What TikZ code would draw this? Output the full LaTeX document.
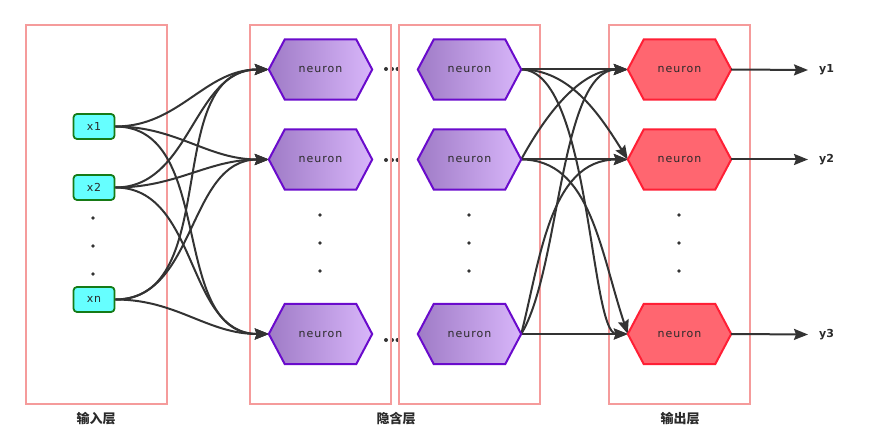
\documentclass[tikz,border=0pt]{standalone}
\usepackage{fontspec}
\setmainfont{DejaVu Sans}
\newfontfamily\cjk{Noto Sans CJK SC}
\usetikzlibrary{arrows.meta,calc}
\definecolor{ink}{HTML}{333333}
\definecolor{txt}{HTML}{2A2A2A}
\definecolor{layerc}{HTML}{F59B9B}
\definecolor{infill}{HTML}{66FFFF}
\definecolor{indraw}{HTML}{167A16}
\definecolor{hidl}{HTML}{9F7BC6}
\definecolor{hidr}{HTML}{D8B6FA}
\definecolor{hiddraw}{HTML}{6A0BCC}
\definecolor{outfill}{HTML}{FF6670}
\definecolor{outdraw}{HTML}{FF1F35}
\newcommand\neuronhex[4]{%
  \node[hexbox] (#1) at (#2,#3) {};
  \path[#4] (#1.west) -- ([xshift=16pt]#1.north west) -- ([xshift=-16pt]#1.north east)
    -- (#1.east) -- ([xshift=-16pt]#1.south east) -- ([xshift=16pt]#1.south west) -- cycle;
  \node[neurontext] (#1t) at (#1) {neuron};
}
\begin{document}
\begin{tikzpicture}[x=1pt,y=-1pt,
  layerbox/.style={draw=layerc,line width=1.8pt},
  hexbox/.style={minimum width=103pt,minimum height=60pt,inner sep=0pt},
  hidstyle/.style={draw=hiddraw,line width=2pt,left color=hidl,right color=hidr},
  outstyle/.style={draw=outdraw,line width=2pt,fill=outfill},
  neurontext/.style={text=txt,font=\fontsize{11}{13}\selectfont\addfontfeature{LetterSpace=9}},
  innode/.style={draw=indraw,fill=infill,line width=1.8pt,rounded corners=3.5pt,minimum width=41pt,minimum height=25pt,inner sep=0pt,text=txt,font=\fontsize{11}{13}\selectfont\addfontfeature{LetterSpace=6}},
  edge/.style={draw=ink,line width=2pt,-{Stealth[length=14pt,width=11pt,inset=2pt]}},
  dotc/.style={fill=ink,draw=none},
  ylab/.style={anchor=west,inner xsep=11pt,inner ysep=0pt,text=txt,font=\fontsize{11}{13}\selectfont\bfseries},
  layerlab/.style={text=txt,font=\cjk\fontsize{13}{15}\selectfont\bfseries}
]
\useasboundingbox (0,0) rectangle (869,435);
% ellipsis dots between hidden layers
\foreach \yy in {69,160,340} {
  \fill[dotc] (386,\yy) circle (2pt);
  \fill[dotc] (392,\yy) circle (2pt);
  \fill[dotc] (397.5,\yy) circle (2pt);
}
% layer boxes
\draw[layerbox] (26,25) rectangle (167,404);
\draw[layerbox] (250,25) rectangle (391,404);
\draw[layerbox] (399,25) rectangle (540,404);
\draw[layerbox] (609,25) rectangle (750,404);
% vertical dots
\foreach \yy in {218,246,274} \fill[dotc] (93,\yy) circle (1.8pt);
\foreach \xx in {320,469,679} \foreach \yy in {215,243,271} \fill[dotc] (\xx,\yy) circle (1.8pt);
% nodes (anchors)
\node[innode] (i1) at (94,126.5) {x1};
\node[innode] (i2) at (94,187.5) {x2};
\node[innode] (i3) at (94,299.5) {xn};
\node[hexbox] (h1) at (320.5,69.5) {};
\node[hexbox] (h2) at (320.5,159.5) {};
\node[hexbox] (h3) at (320.5,334) {};
\node[hexbox] (g1) at (469.5,69.5) {};
\node[hexbox] (g2) at (469.5,159.5) {};
\node[hexbox] (g3) at (469.5,334) {};
\node[hexbox] (o1) at (679.5,69.5) {};
\node[hexbox] (o2) at (679.5,159.5) {};
\node[hexbox] (o3) at (679.5,334) {};
% input -> hidden
\foreach \a in {i1,i2,i3} \foreach \b in {h1,h2,h3}
  \draw[edge] (\a.east) to[out=0,in=180] (\b.west);
% hidden -> output
\draw[edge] (g1.east) -- (o1.west);
\draw[edge] (g2.east) -- (o2.west);
\draw[edge] (g3.east) -- (o3.west);
\draw[edge] (g1.east) .. controls +(49,0) and +(-28,-44.5) .. (o2.west);
\draw[edge] (g1.east) .. controls +(69,0) and +(-38,0) .. (o3.west);
\draw[edge] (g2.east) .. controls +(69,0) and +(-28,-84) .. (o3.west);
\draw[edge] (g2.east) .. controls +(24,-44) and +(-48,0) .. (o1.west);
\draw[edge] (g3.east) .. controls +(39,-64) and +(-68,0) .. (o1.west);
\draw[edge] (g3.east) .. controls +(19,-74) and +(-78,0) .. (o2.west);
% hexagons
\neuronhex{hh1}{320.5}{69.5}{hidstyle}
\neuronhex{hh2}{320.5}{159.5}{hidstyle}
\neuronhex{hh3}{320.5}{334}{hidstyle}
\neuronhex{gg1}{469.5}{69.5}{hidstyle}
\neuronhex{gg2}{469.5}{159.5}{hidstyle}
\neuronhex{gg3}{469.5}{334}{hidstyle}
\neuronhex{oo1}{679.5}{69.5}{outstyle}
\neuronhex{oo2}{679.5}{159.5}{outstyle}
\neuronhex{oo3}{679.5}{334}{outstyle}
% outputs
\node[ylab] (y1) at (808,70) {y1};
\node[ylab] (y2) at (808,159.5) {y2};
\node[ylab] (y3) at (808,334.5) {y3};
\draw[edge] (o1.east) -- (y1.west);
\draw[edge] (o2.east) -- (y2.west);
\draw[edge] (o3.east) -- (y3.west);
% layer labels
\node[layerlab] (l1) at (96,419) {输入层};
\node[layerlab] (l2) at (396,419) {隐含层};
\node[layerlab] (l3) at (680,419) {输出层};
\end{tikzpicture}
\end{document}
